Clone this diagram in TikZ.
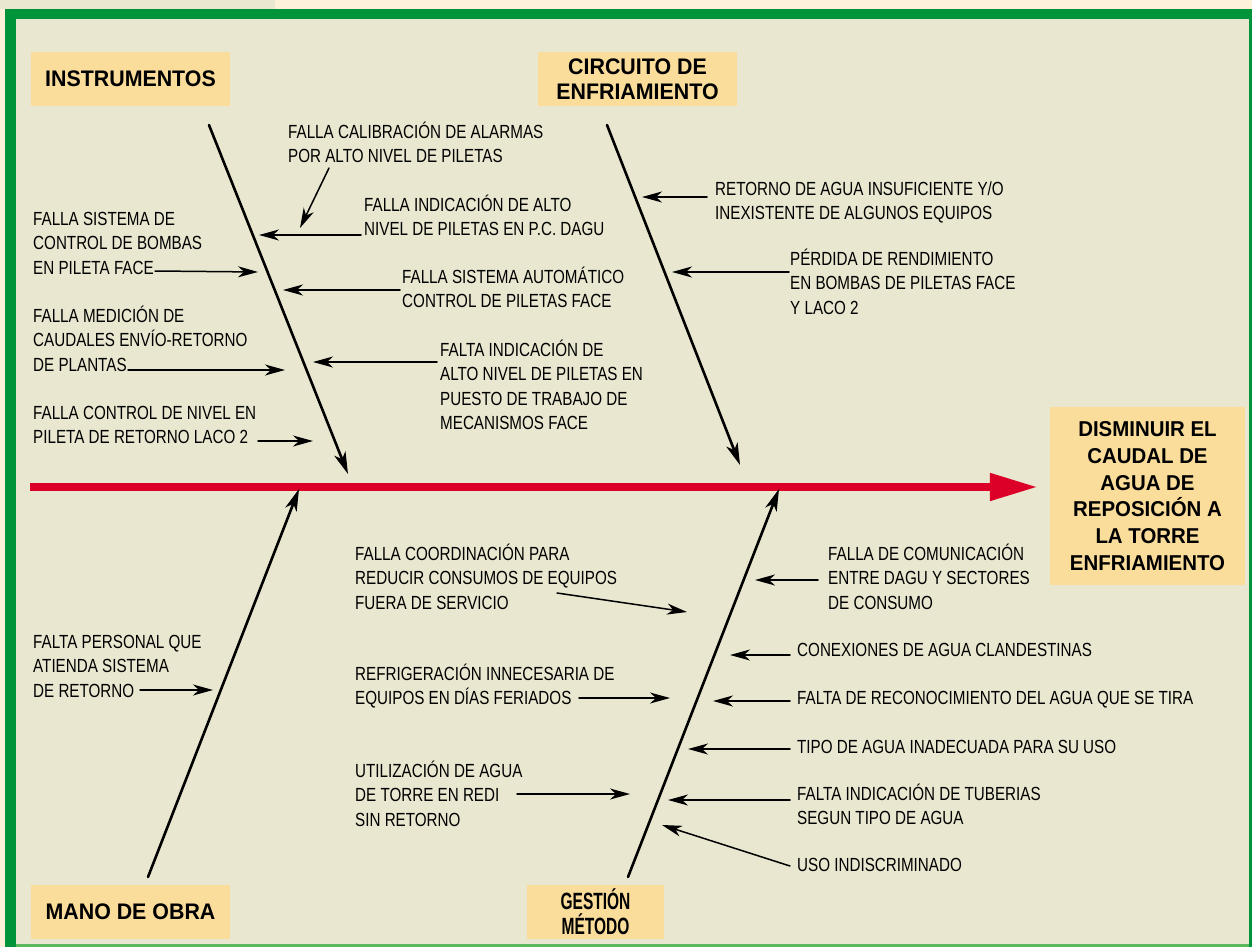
\documentclass[tikz,border=0pt]{standalone}
\usepackage{fontspec}
\setmainfont{Liberation Sans}
\newfontfamily\causefont[FakeStretch=0.8]{Liberation Sans}
\newfontfamily\headfont[FakeStretch=0.95]{Liberation Sans}
\newfontfamily\narrowfont[FakeStretch=0.66]{Liberation Sans}
\usetikzlibrary{arrows.meta}
\definecolor{bgpaper}{RGB}{253,242,217}
\definecolor{bginner}{RGB}{233,231,207}
\definecolor{framegreen}{RGB}{0,148,58}
\definecolor{framelight}{RGB}{92,184,92}
\definecolor{labelfill}{RGB}{250,220,155}
\definecolor{spinered}{RGB}{220,0,40}
\tikzset{
  cause/.style={font=\causefont\fontsize{19}{24.5}\selectfont,align=left,anchor=base west,inner sep=0pt},
  heading/.style={fill=labelfill,font=\headfont\bfseries\fontsize{22.5}{25}\selectfont,align=center,inner sep=0pt},
  bone/.style={line width=2.6pt,-{Stealth[length=22pt,width=12pt,inset=6pt]}},
  twig/.style={line width=1.5pt,-{Stealth[length=20pt,width=11pt,inset=6pt]}},
}

\begin{document}
\begin{tikzpicture}[x=1pt,y=-1pt,line cap=round]
        \useasboundingbox (0,0) rectangle (1252,947);
        % background and frame
        \fill[bgpaper] (0,0) rectangle (1252,947);
        \fill[bginner] (0,0) rectangle (275,9);
        \fill[framegreen] (5,9) rectangle (1252,947);
        \fill[framelight] (16,944) rectangle (1249,947);
        \fill[bginner] (16,19) rectangle (1249,944);
        % effect
        \node[heading,font=\headfont\bfseries\fontsize{21.5}{26.7}\selectfont,minimum width=195pt,minimum height=178pt] (goal) at (1147.5,496) {DISMINUIR EL\\CAUDAL DE\\AGUA DE\\REPOSICIÓN A\\LA TORRE\\ENFRIAMIENTO};
        % spine
        \coordinate (spine) at (30,487);
        \draw[spinered,line width=8pt,line cap=butt,-{Triangle[length=48pt,width=26pt]}] (spine) -- ([xshift=-12pt]goal.west |- spine);
        % categories
        \node[heading,minimum width=199pt,minimum height=54pt] (instr) at (130.5,79) {INSTRUMENTOS};
        \node[heading,minimum width=199pt,minimum height=54pt] (circ) at (637.5,79) {CIRCUITO DE\\ENFRIAMIENTO};
        \node[heading,minimum width=199pt,minimum height=54pt] (mano) at (130.5,912) {MANO DE OBRA};
        \node[heading,font=\narrowfont\bfseries\fontsize{23.5}{25}\selectfont,minimum width=137pt,minimum height=54pt] (gest) at (595.5,912) {GESTIÓN\\MÉTODO};
        % main bones
        \coordinate (instrA) at (209,125);  \coordinate (instrB) at (348,474);
        \coordinate (circA) at (607,125);   \coordinate (circB) at (740,465);
        \coordinate (manoA) at (148,877);   \coordinate (manoB) at (299,489);
        \coordinate (gestA) at (628,877);   \coordinate (gestB) at (779,489);
        \foreach \b in {instr,circ,mano,gest}
            \draw[bone] (\b A) -- (\b B);
        % causes: instrumentos
        \node[cause] (i1) at (288,162.5) {FALLA CALIBRACIÓN DE ALARMAS\\POR ALTO NIVEL DE PILETAS};
        \node[cause] (i2) at (364,235.5) {FALLA INDICACIÓN DE ALTO\\NIVEL DE PILETAS EN P.C. DAGU};
        \node[cause] (i3) at (33,274) {FALLA SISTEMA DE\\CONTROL DE BOMBAS\\EN PILETA FACE};
        \node[cause] (i4) at (402,307.5) {FALLA SISTEMA AUTOMÁTICO\\CONTROL DE PILETAS FACE};
        \node[cause] (i5) at (33,371) {FALLA MEDICIÓN DE\\CAUDALES ENVÍO-RETORNO\\DE PLANTAS};
        \node[cause] (i6) at (440,429.5) {FALTA INDICACIÓN DE\\ALTO NIVEL DE PILETAS EN\\PUESTO DE TRABAJO DE\\MECANISMOS FACE};
        \node[cause] (i7) at (33,443.5) {FALLA CONTROL DE NIVEL EN\\PILETA DE RETORNO LACO 2};
        \coordinate (i1s) at (329,168); \coordinate (i1e) at (300,228);
        \coordinate (i2s) at (361,235); \coordinate (i2e) at (259,235);
        \coordinate (i3s) at (155,271); \coordinate (i3e) at (258,272);
        \coordinate (i4s) at (400,290); \coordinate (i4e) at (283,290);
        \coordinate (i5s) at (128,370); \coordinate (i5e) at (285,370);
        \coordinate (i6s) at (437,362); \coordinate (i6e) at (313,362);
        \coordinate (i7s) at (258,441); \coordinate (i7e) at (313,441);
        % causes: circuito de enfriamiento
        \node[cause] (c1) at (715,219.5) {RETORNO DE AGUA INSUFICIENTE Y/O\\INEXISTENTE DE ALGUNOS EQUIPOS};
        \node[cause] (c2) at (790,314) {PÉRDIDA DE RENDIMIENTO\\EN BOMBAS DE PILETAS FACE\\Y LACO 2};
        \coordinate (c1s) at (707,197); \coordinate (c1e) at (642,197);
        \coordinate (c2s) at (789,272); \coordinate (c2e) at (672,272);
        % causes: mano de obra
        \node[cause] (m1) at (33,697) {FALTA PERSONAL QUE\\ATIENDA SISTEMA\\DE RETORNO};
        \coordinate (m1s) at (140,690); \coordinate (m1e) at (213,690);
        % causes: gestion metodo
        \node[cause] (g1) at (828,609) {FALLA DE COMUNICACIÓN\\ENTRE DAGU Y SECTORES\\DE CONSUMO};
        \node[cause] (g2) at (797,656) {CONEXIONES DE AGUA CLANDESTINAS};
        \node[cause] (g3) at (797,704) {FALTA DE RECONOCIMIENTO DEL AGUA QUE SE TIRA};
        \node[cause] (g4) at (797,753) {TIPO DE AGUA INADECUADA PARA SU USO};
        \node[cause] (g5) at (797,824.5) {FALTA INDICACIÓN DE TUBERIAS\\SEGUN TIPO DE AGUA};
        \node[cause] (g6) at (797,871) {USO INDISCRIMINADO};
        \node[cause] (g7) at (355,609) {FALLA COORDINACIÓN PARA\\REDUCIR CONSUMOS DE EQUIPOS\\FUERA DE SERVICIO};
        \node[cause] (g8) at (355,704.5) {REFRIGERACIÓN INNECESARIA DE\\EQUIPOS EN DÍAS FERIADOS};
        \node[cause] (g9) at (355,826) {UTILIZACIÓN DE AGUA\\DE TORRE EN REDI\\SIN RETORNO};
        \coordinate (g1s) at (818,580); \coordinate (g1e) at (755,580);
        \coordinate (g2s) at (790,655); \coordinate (g2e) at (730,655);
        \coordinate (g3s) at (790,701); \coordinate (g3e) at (713,701);
        \coordinate (g4s) at (790,749); \coordinate (g4e) at (688,749);
        \coordinate (g5s) at (790,800); \coordinate (g5e) at (668,800);
        \coordinate (g6s) at (790,866); \coordinate (g6e) at (662,825);
        \coordinate (g7s) at (557,593); \coordinate (g7e) at (687,612);
        \coordinate (g8s) at (579,698); \coordinate (g8e) at (670,698);
        \coordinate (g9s) at (517,794); \coordinate (g9e) at (630,794);
        % small arrows
        \foreach \c in {i1,i2,i3,i4,i5,i6,i7,c1,c2,m1,g1,g2,g3,g4,g5,g6,g7,g8,g9}
            \draw[twig] (\c s) -- (\c e);
    \end{tikzpicture}
\end{document}
